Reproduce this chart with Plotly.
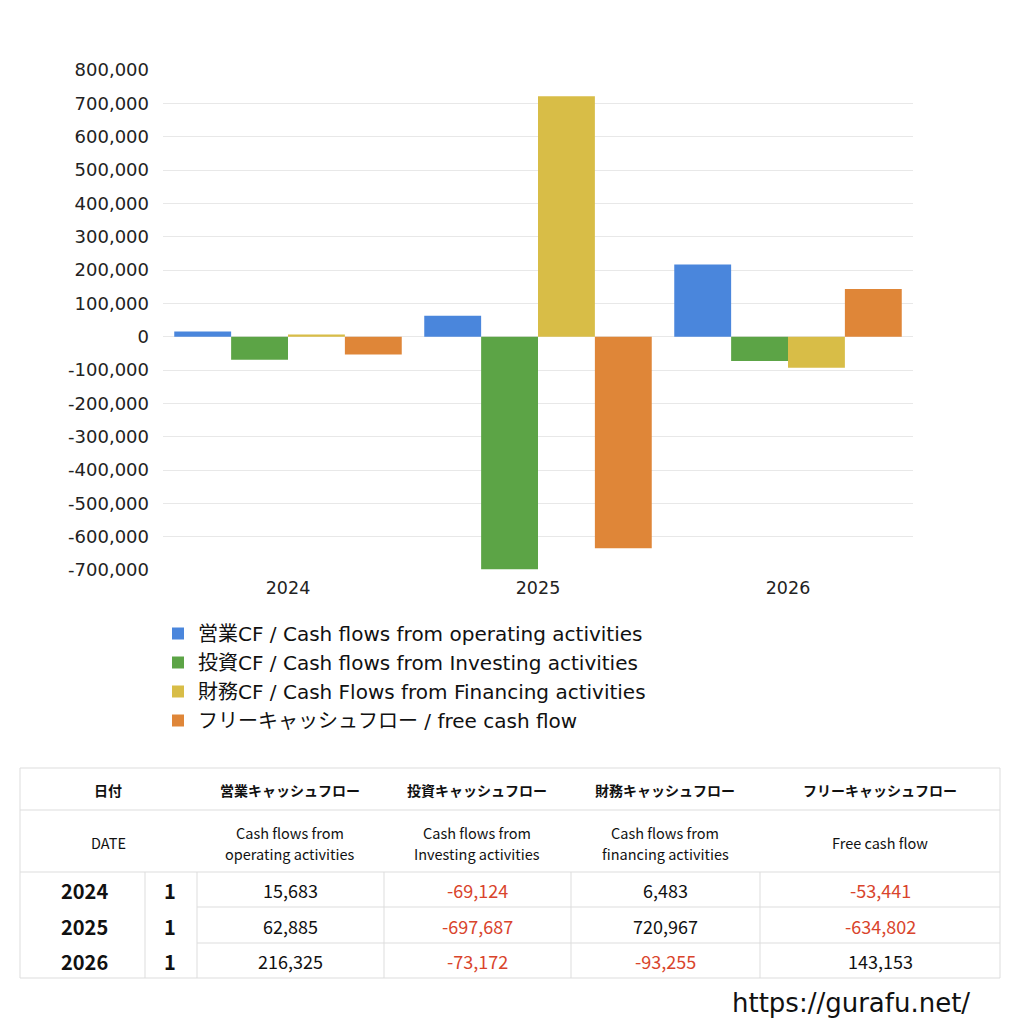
"""Cash flow comparison chart (gurafu style) rebuilt with plotly."""

import plotly.graph_objects as go

# ---- data ----
years = ['2024', '2025', '2026']
operating_cf = [15683, 62885, 216325]
investing_cf = [-69124, -697687, -73172]
financing_cf = [6483, 720967, -93255]
free_cf = [-53441, -634802, 143153]

series_names = [
    '営業CF / Cash flows from operating activities',
    '投資CF / Cash flows from Investing activities',
    '財務CF / Cash Flows from Financing activities',
    'フリーキャッシュフロー / free cash flow',
]
series_colors = ['#4a86dc', '#5ca446', '#d8bd47', '#df8638']

y_ticks = list(range(-700000, 800001, 100000))

table_head_ja = ['日付', '営業キャッシュフロー', '投資キャッシュフロー',
                 '財務キャッシュフロー', 'フリーキャッシュフロー']
table_head_en = [('DATE', ''), ('Cash flows from', 'operating activities'),
                 ('Cash flows from', 'Investing activities'),
                 ('Cash flows from', 'financing activities'), ('Free cash flow', '')]
period_label = ['1', '1', '1']

JP = 'Noto Sans CJK JP'
LATIN = 'DejaVu Sans, Noto Sans CJK JP'
# browser body has an 8px margin, so the figure is 8px smaller than the window
OFF = 8
W = H = 1016


def px(x):
    return (x - OFF) / W


def py(y):
    return 1 - (y - OFF) / H


fig = go.Figure()
for name, vals, color in zip(series_names,
                             [operating_cf, investing_cf, financing_cf, free_cf],
                             series_colors):
    fig.add_trace(go.Bar(x=years, y=vals, name=name,
                         marker=dict(color=color, line=dict(width=0))))

fig.update_layout(
    width=W, height=H,
    margin=dict(l=0, r=0, t=0, b=0, autoexpand=False),
    paper_bgcolor='white', plot_bgcolor='white',
    barmode='group', bargap=0.09, bargroupgap=0,
    font=dict(family=JP, color='#222'),
    showlegend=True,
    legend=dict(x=px(158), y=py(614), xanchor='left', yanchor='top',
                font=dict(size=20, color='#111', family=LATIN), tracegroupgap=0,
                bgcolor='rgba(0,0,0,0)'),
    xaxis=dict(domain=[px(163), px(913)], showline=False, showgrid=False,
               automargin=False, tickfont=dict(size=17.5, color='#222', family=LATIN),
               ticks='', ticklabelstandoff=5),
    yaxis=dict(domain=[py(570), py(70)], range=[-700000, 800000],
               tickvals=y_ticks, ticktext=[f'{v:,}' for v in y_ticks],
               showgrid=True, gridcolor='#e8e8e8', automargin=False,
               zeroline=True, zerolinecolor='#e8e8e8', zerolinewidth=1,
               tickfont=dict(size=18, color='#222', family=LATIN), ticks='', ticklen=0,
               ticklabelstandoff=13),
)

# ---- table under the chart ----
border = '#dddddd'
shapes = []
annotations = []


def hline(y, x0=20, x1=1000):
    shapes.append(dict(type='line', xref='paper', yref='paper',
                       x0=px(x0), x1=px(x1), y0=py(y), y1=py(y),
                       line=dict(color=border, width=1)))


def vline(x, y0, y1):
    shapes.append(dict(type='line', xref='paper', yref='paper',
                       x0=px(x), x1=px(x), y0=py(y0), y1=py(y1),
                       line=dict(color=border, width=1)))


def text(x, y, s, size, color='#111', bold=False, family=JP):
    annotations.append(dict(xref='paper', yref='paper', x=px(x), y=py(y),
                            text=f'<b>{s}</b>' if bold else s,
                            showarrow=False, xanchor='center', yanchor='middle',
                            font=dict(size=size, color=color, family=family)))


hline(768)
hline(810)
hline(872)
hline(907, 197)
hline(943, 197)
hline(978)
vline(20, 768, 978)
vline(1000, 768, 978)
vline(145, 872, 978)
for x in [197, 384, 571, 760]:
    vline(x, 872, 978)

col_centers = [108, 290, 477, 665, 880]
for cx, ja, (en1, en2) in zip(col_centers, table_head_ja, table_head_en):
    text(cx, 790, ja, 14, bold=True)
    if en2:
        text(cx, 832, en1, 14.5)
        text(cx, 853, en2, 14.5)
    else:
        text(cx, 842, en1, 14.5)

row_centers = [890, 926, 961]
columns = [operating_cf, investing_cf, financing_cf, free_cf]
for i, (yr, pl) in enumerate(zip(years, period_label)):
    ry = row_centers[i]
    text(84, ry, yr, 20, bold=True)
    text(170, ry, pl, 20, bold=True)
    for cx, col in zip(col_centers[1:], columns):
        v = col[i]
        text(cx, ry, f'{v:,}', 18, color='#d9442c' if v < 0 else '#111')

annotations.append(dict(xref='paper', yref='paper', x=px(972), y=py(1003),
                        text='https://gurafu.net/', showarrow=False,
                        xanchor='right', yanchor='middle',
                        font=dict(size=26, color='#111', family='DejaVu Sans')))

fig.update_layout(shapes=shapes, annotations=annotations)

fig.write_html('out.html')
